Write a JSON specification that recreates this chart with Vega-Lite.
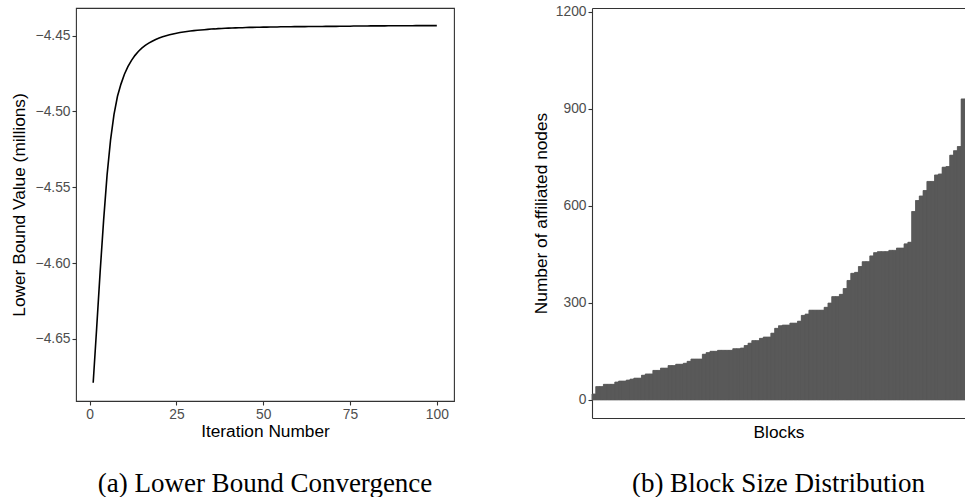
{
  "$schema": "https://vega.github.io/schema/vega-lite/v6.json",
  "padding": {"left": 9, "top": 4, "right": 0, "bottom": 0},
  "background": "white",
  "config": {
    "font": "Liberation Sans",
    "view": {"stroke": "#333333", "strokeWidth": 1.1},
    "axis": {
      "labelFont": "Liberation Sans", "labelFontSize": 13.8, "labelColor": "#4D4D4D",
      "titleFont": "Liberation Sans", "titleFontSize": 17.3, "titleColor": "#000000", "titleFontWeight": "normal",
      "tickColor": "#333333", "tickSize": 4, "tickWidth": 1.1, "grid": false, "domain": false, "labelPadding": 2
    },
    "title": {"font": "Liberation Serif", "fontSize": 27, "fontWeight": "normal", "color": "#000000", "orient": "bottom", "anchor": "middle"},
    "concat": {"spacing": 77}
  },
  "datasets": {
    "convergence": [
      {"iteration": 1, "lower_bound": -4.679}, {"iteration": 2, "lower_bound": -4.643}, {"iteration": 3, "lower_bound": -4.606},
      {"iteration": 4, "lower_bound": -4.572}, {"iteration": 5, "lower_bound": -4.542}, {"iteration": 6, "lower_bound": -4.519},
      {"iteration": 7, "lower_bound": -4.502}, {"iteration": 8, "lower_bound": -4.490}, {"iteration": 9, "lower_bound": -4.482},
      {"iteration": 10, "lower_bound": -4.4755}, {"iteration": 11, "lower_bound": -4.4705}, {"iteration": 12, "lower_bound": -4.4665},
      {"iteration": 13, "lower_bound": -4.4632}, {"iteration": 14, "lower_bound": -4.4605}, {"iteration": 15, "lower_bound": -4.4583},
      {"iteration": 16, "lower_bound": -4.4565}, {"iteration": 17, "lower_bound": -4.455}, {"iteration": 18, "lower_bound": -4.4537},
      {"iteration": 19, "lower_bound": -4.4526}, {"iteration": 20, "lower_bound": -4.4516}, {"iteration": 21, "lower_bound": -4.4508},
      {"iteration": 22, "lower_bound": -4.4501}, {"iteration": 23, "lower_bound": -4.4495}, {"iteration": 24, "lower_bound": -4.4489},
      {"iteration": 25, "lower_bound": -4.4484}, {"iteration": 26, "lower_bound": -4.448}, {"iteration": 27, "lower_bound": -4.4476},
      {"iteration": 28, "lower_bound": -4.4473}, {"iteration": 29, "lower_bound": -4.447}, {"iteration": 30, "lower_bound": -4.4467},
      {"iteration": 31, "lower_bound": -4.4465}, {"iteration": 32, "lower_bound": -4.4463}, {"iteration": 33, "lower_bound": -4.4461},
      {"iteration": 34, "lower_bound": -4.4459}, {"iteration": 35, "lower_bound": -4.4457}, {"iteration": 36, "lower_bound": -4.4456},
      {"iteration": 37, "lower_bound": -4.4454}, {"iteration": 38, "lower_bound": -4.4453}, {"iteration": 39, "lower_bound": -4.4452},
      {"iteration": 40, "lower_bound": -4.4451}, {"iteration": 41, "lower_bound": -4.445}, {"iteration": 42, "lower_bound": -4.4449},
      {"iteration": 43, "lower_bound": -4.4448}, {"iteration": 44, "lower_bound": -4.4448}, {"iteration": 45, "lower_bound": -4.4447},
      {"iteration": 46, "lower_bound": -4.4446}, {"iteration": 47, "lower_bound": -4.4446}, {"iteration": 48, "lower_bound": -4.4445},
      {"iteration": 49, "lower_bound": -4.4445}, {"iteration": 50, "lower_bound": -4.4444}, {"iteration": 51, "lower_bound": -4.4444},
      {"iteration": 52, "lower_bound": -4.4443}, {"iteration": 53, "lower_bound": -4.4443}, {"iteration": 54, "lower_bound": -4.4443},
      {"iteration": 55, "lower_bound": -4.4442}, {"iteration": 56, "lower_bound": -4.4442}, {"iteration": 57, "lower_bound": -4.4442},
      {"iteration": 58, "lower_bound": -4.4442}, {"iteration": 59, "lower_bound": -4.4441}, {"iteration": 60, "lower_bound": -4.4441},
      {"iteration": 61, "lower_bound": -4.4441}, {"iteration": 62, "lower_bound": -4.4441}, {"iteration": 63, "lower_bound": -4.444},
      {"iteration": 64, "lower_bound": -4.444}, {"iteration": 65, "lower_bound": -4.444}, {"iteration": 66, "lower_bound": -4.444},
      {"iteration": 67, "lower_bound": -4.444}, {"iteration": 68, "lower_bound": -4.4439}, {"iteration": 69, "lower_bound": -4.4439},
      {"iteration": 70, "lower_bound": -4.4439}, {"iteration": 71, "lower_bound": -4.4439}, {"iteration": 72, "lower_bound": -4.4438},
      {"iteration": 73, "lower_bound": -4.4438}, {"iteration": 74, "lower_bound": -4.4438}, {"iteration": 75, "lower_bound": -4.4438},
      {"iteration": 76, "lower_bound": -4.4437}, {"iteration": 77, "lower_bound": -4.4437}, {"iteration": 78, "lower_bound": -4.4437},
      {"iteration": 79, "lower_bound": -4.4437}, {"iteration": 80, "lower_bound": -4.4437}, {"iteration": 81, "lower_bound": -4.4436},
      {"iteration": 82, "lower_bound": -4.4436}, {"iteration": 83, "lower_bound": -4.4436}, {"iteration": 84, "lower_bound": -4.4436},
      {"iteration": 85, "lower_bound": -4.4436}, {"iteration": 86, "lower_bound": -4.4435}, {"iteration": 87, "lower_bound": -4.4435},
      {"iteration": 88, "lower_bound": -4.4435}, {"iteration": 89, "lower_bound": -4.4435}, {"iteration": 90, "lower_bound": -4.4435},
      {"iteration": 91, "lower_bound": -4.4435}, {"iteration": 92, "lower_bound": -4.4435}, {"iteration": 93, "lower_bound": -4.4435},
      {"iteration": 94, "lower_bound": -4.4434}, {"iteration": 95, "lower_bound": -4.4434}, {"iteration": 96, "lower_bound": -4.4434},
      {"iteration": 97, "lower_bound": -4.4434}, {"iteration": 98, "lower_bound": -4.4434}, {"iteration": 99, "lower_bound": -4.4434},
      {"iteration": 100, "lower_bound": -4.4434}
    ],
    "blocks": [
      {"block": 1, "nodes": 18}, {"block": 2, "nodes": 41}, {"block": 3, "nodes": 41}, {"block": 4, "nodes": 48}, {"block": 5, "nodes": 48},
      {"block": 6, "nodes": 48}, {"block": 7, "nodes": 55}, {"block": 8, "nodes": 58}, {"block": 9, "nodes": 58}, {"block": 10, "nodes": 61},
      {"block": 11, "nodes": 64}, {"block": 12, "nodes": 67}, {"block": 13, "nodes": 67}, {"block": 14, "nodes": 76}, {"block": 15, "nodes": 80},
      {"block": 16, "nodes": 80}, {"block": 17, "nodes": 91}, {"block": 18, "nodes": 91}, {"block": 19, "nodes": 98}, {"block": 20, "nodes": 98},
      {"block": 21, "nodes": 106}, {"block": 22, "nodes": 106}, {"block": 23, "nodes": 110}, {"block": 24, "nodes": 110}, {"block": 25, "nodes": 113},
      {"block": 26, "nodes": 119}, {"block": 27, "nodes": 126}, {"block": 28, "nodes": 126}, {"block": 29, "nodes": 126}, {"block": 30, "nodes": 141},
      {"block": 31, "nodes": 146}, {"block": 32, "nodes": 150}, {"block": 33, "nodes": 150}, {"block": 34, "nodes": 153}, {"block": 35, "nodes": 153},
      {"block": 36, "nodes": 153}, {"block": 37, "nodes": 153}, {"block": 38, "nodes": 158}, {"block": 39, "nodes": 158}, {"block": 40, "nodes": 160},
      {"block": 41, "nodes": 168}, {"block": 42, "nodes": 175}, {"block": 43, "nodes": 183}, {"block": 44, "nodes": 183}, {"block": 45, "nodes": 190},
      {"block": 46, "nodes": 194}, {"block": 47, "nodes": 194}, {"block": 48, "nodes": 206}, {"block": 49, "nodes": 221}, {"block": 50, "nodes": 229},
      {"block": 51, "nodes": 231}, {"block": 52, "nodes": 231}, {"block": 53, "nodes": 237}, {"block": 54, "nodes": 237}, {"block": 55, "nodes": 243},
      {"block": 56, "nodes": 261}, {"block": 57, "nodes": 265}, {"block": 58, "nodes": 277}, {"block": 59, "nodes": 277}, {"block": 60, "nodes": 277},
      {"block": 61, "nodes": 277}, {"block": 62, "nodes": 286}, {"block": 63, "nodes": 299}, {"block": 64, "nodes": 319}, {"block": 65, "nodes": 319},
      {"block": 66, "nodes": 326}, {"block": 67, "nodes": 344}, {"block": 68, "nodes": 369}, {"block": 69, "nodes": 391}, {"block": 70, "nodes": 394},
      {"block": 71, "nodes": 412}, {"block": 72, "nodes": 427}, {"block": 73, "nodes": 427}, {"block": 74, "nodes": 445}, {"block": 75, "nodes": 455},
      {"block": 76, "nodes": 458}, {"block": 77, "nodes": 458}, {"block": 78, "nodes": 458}, {"block": 79, "nodes": 462}, {"block": 80, "nodes": 462},
      {"block": 81, "nodes": 469}, {"block": 82, "nodes": 469}, {"block": 83, "nodes": 482}, {"block": 84, "nodes": 487}, {"block": 85, "nodes": 582},
      {"block": 86, "nodes": 616}, {"block": 87, "nodes": 630}, {"block": 88, "nodes": 647}, {"block": 89, "nodes": 675}, {"block": 90, "nodes": 675},
      {"block": 91, "nodes": 695}, {"block": 92, "nodes": 698}, {"block": 93, "nodes": 719}, {"block": 94, "nodes": 721}, {"block": 95, "nodes": 756},
      {"block": 96, "nodes": 770}, {"block": 97, "nodes": 783}, {"block": 98, "nodes": 930}
    ]
  },
  "hconcat": [
    {
      "width": 378,
      "height": 393,
      "title": {"text": "(a) Lower Bound Convergence", "orient": "bottom", "offset": 31},
      "data": {"name": "convergence"},
      "mark": {"type": "line", "color": "#000000", "strokeWidth": 1.6},
      "encoding": {
        "x": {
          "field": "iteration", "type": "quantitative",
          "scale": {"domain": [-3.95, 104.95], "nice": false, "zero": false},
          "axis": {"values": [0, 25, 50, 75, 100], "title": "Iteration Number", "titlePadding": 2}
        },
        "y": {
          "field": "lower_bound", "type": "quantitative",
          "scale": {"domain": [-4.691, -4.4318], "nice": false, "zero": false},
          "axis": {"values": [-4.65, -4.6, -4.55, -4.5, -4.45], "format": ".2f", "labelExpr": "replace(datum.label, '-', '\u2212')", "title": "Lower Bound Value (millions)", "titlePadding": 7}
        }
      }
    },
    {
      "width": 373,
      "height": 410,
      "title": {"text": "(b) Block Size Distribution", "orient": "bottom", "offset": 31},
      "data": {"name": "blocks"},
      "view": {"stroke": null},
      "layer": [
        {
          "mark": {"type": "bar", "color": "#595959", "stroke": "#595959", "strokeWidth": 0.5},
          "encoding": {
            "x": {
              "field": "block", "type": "ordinal",
              "scale": {"paddingInner": 0, "paddingOuter": 0},
              "axis": {"orient": "bottom", "labels": false, "ticks": false, "domain": true, "domainColor": "#333333", "domainWidth": 1.1, "title": "Blocks", "titlePadding": 5}
            },
            "y": {
              "field": "nodes", "type": "quantitative",
              "scale": {"domain": [-56, 1211], "nice": false, "zero": false},
              "axis": {"values": [0, 300, 600, 900, 1200], "format": "d", "domain": true, "domainColor": "#333333", "domainWidth": 1.1, "title": "Number of affiliated nodes", "titlePadding": 5}
            }
          }
        },
        {
          "mark": {"type": "bar", "color": "#595959", "stroke": "#595959", "strokeWidth": 0.5},
          "encoding": {
            "x": {
              "field": "block", "type": "ordinal",
              "axis": {"orient": "top", "labels": false, "ticks": false, "domain": true, "domainColor": "#333333", "domainWidth": 1.1, "title": null}
            },
            "y": {"field": "nodes", "type": "quantitative"}
          }
        }
      ],
      "resolve": {"axis": {"x": "independent"}}
    }
  ]
}
